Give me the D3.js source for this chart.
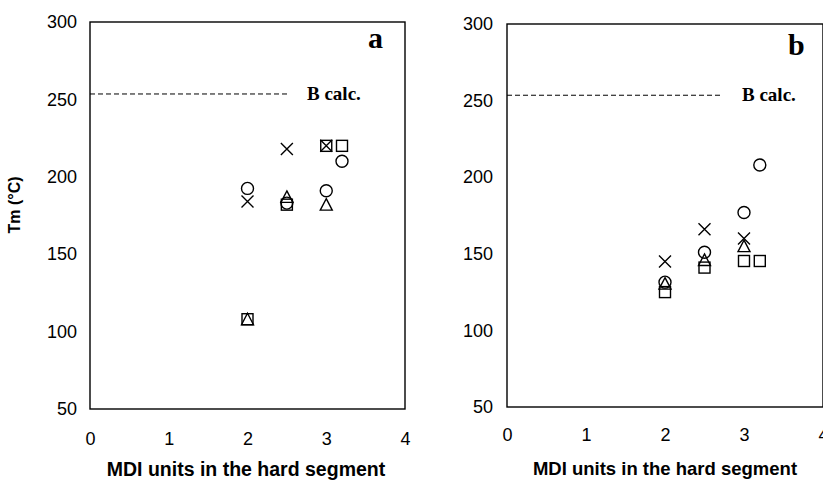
<!DOCTYPE html>
<html><head><meta charset="utf-8">
<script src="https://cdn.jsdelivr.net/npm/d3@7"></script>
<style>body{margin:0;background:#fff}svg{display:block}</style>
</head><body>
<svg id="chart" width="823" height="481"></svg>
<script>
// ---- data ----
const xTicks = [0, 1, 2, 3, 4];
const yTicks = [50, 100, 150, 200, 250, 300];
const bCalcValue = 253.5;
const xAxisTitle = "MDI units in the hard segment";
const yAxisTitle = "Tm (°C)";

// panel a
const aCircle   = [[2, 192.5], [2.5, 183], [3, 191], [3.2, 210]];
const aCross    = [[2, 184], [2.5, 218], [3, 220]];
const aTriangle = [[2, 108], [2.5, 187], [3, 182]];
const aSquare   = [[2, 108], [2.5, 182], [3, 220], [3.2, 220]];
// panel b
const bCircle   = [[2, 131.5], [2.5, 151], [3, 177], [3.2, 208]];
const bCross    = [[2, 145], [2.5, 166], [3, 160]];
const bTriangle = [[2, 130.5], [2.5, 146], [3, 155]];
const bSquare   = [[2, 125], [2.5, 141], [3, 145.3], [3.2, 145.3]];

const svg = d3.select("#chart");
const SANS = "Liberation Sans, Arial, sans-serif";
const SERIF = "Liberation Serif, Times New Roman, serif";

function panel(cfg) {
  const x = d3.scaleLinear().domain([0, 4]).range([cfg.left, cfg.right]);
  const y = d3.scaleLinear().domain([50, 300]).range([cfg.bottom, cfg.top]);
  const g = svg.append("g");

  // frame
  g.append("rect").attr("x", cfg.left).attr("y", cfg.top)
    .attr("width", cfg.right - cfg.left).attr("height", cfg.bottom - cfg.top)
    .attr("fill", "none").attr("stroke", "#000").attr("stroke-width", 1.4);

  // y axis
  const ya = d3.axisLeft(y).tickValues(yTicks).tickFormat(d3.format("d"))
    .tickSize(0).tickPadding(cfg.ypad);
  const yg = g.append("g").attr("transform", `translate(${cfg.left},0)`).call(ya);
  yg.select(".domain").remove();
  yg.selectAll("text").attr("font-family", SANS).attr("font-size", 18).attr("fill", "#000");

  // x axis
  const xa = d3.axisBottom(x).tickValues(xTicks).tickFormat(d3.format("d"))
    .tickSize(0).tickPadding(cfg.xpad);
  const xg = g.append("g").attr("transform", `translate(0,${cfg.bottom})`).call(xa);
  xg.select(".domain").remove();
  xg.selectAll("text").attr("font-family", SANS).attr("font-size", 18).attr("fill", "#000");

  // x title
  g.append("text").attr("x", cfg.titleX).attr("y", cfg.titleY)
    .attr("text-anchor", "middle").attr("font-family", SANS)
    .attr("font-weight", "bold").attr("font-size", cfg.titleSize).text(xAxisTitle);

  // B calc dashed line
  g.append("line").attr("x1", cfg.left).attr("x2", cfg.dashEnd)
    .attr("y1", y(bCalcValue)).attr("y2", y(bCalcValue))
    .attr("stroke", "#000").attr("stroke-width", 1).attr("stroke-dasharray", "5,3");
  g.append("text").attr("x", cfg.bcalcX).attr("y", y(bCalcValue) + 6)
    .attr("font-family", SERIF).attr("font-weight", "bold").attr("font-size", 19).text("B calc.");

  // panel letter
  g.append("text").attr("x", cfg.letterX).attr("y", cfg.letterY)
    .attr("font-family", SERIF).attr("font-weight", "bold").attr("font-size", 30).text(cfg.letter);

  const mk = g.append("g").attr("fill", "none").attr("stroke", "#000").attr("stroke-width", 1.4);
  mk.selectAll(".c").data(cfg.circle).join("circle")
    .attr("cx", d => x(d[0])).attr("cy", d => y(d[1])).attr("r", 6);
  mk.selectAll(".x").data(cfg.cross).join("path")
    .attr("d", d => {
      const cx = x(d[0]), cy = y(d[1]), s = 6;
      return `M${cx - s},${cy - s}L${cx + s},${cy + s}M${cx - s},${cy + s}L${cx + s},${cy - s}`;
    });
  mk.selectAll(".t").data(cfg.triangle).join("path")
    .attr("d", d => {
      const cx = x(d[0]), cy = y(d[1]);
      return `M${cx},${cy - 6}L${cx + 6},${cy + 5.5}L${cx - 6},${cy + 5.5}Z`;
    });
  mk.selectAll(".s").data(cfg.square).join("rect")
    .attr("x", d => x(d[0]) - 5.5).attr("y", d => y(d[1]) - 5.5)
    .attr("width", 11).attr("height", 11);
}

panel({
  left: 90, right: 405, top: 22, bottom: 409, ypad: 13, xpad: 23,
  titleX: 246, titleY: 476, titleSize: 19.5, dashEnd: 290, bcalcX: 307,
  letter: "a", letterX: 368, letterY: 48,
  circle: aCircle, cross: aCross, triangle: aTriangle, square: aSquare
});
panel({
  left: 507, right: 823, top: 24, bottom: 407, ypad: 14, xpad: 21,
  titleX: 665, titleY: 475, titleSize: 18.5, dashEnd: 723, bcalcX: 742,
  letter: "b", letterX: 788, letterY: 55,
  circle: bCircle, cross: bCross, triangle: bTriangle, square: bSquare
});

// y axis title (panel a only)
svg.append("text").attr("transform", "translate(20,205) rotate(-90)")
  .attr("text-anchor", "middle").attr("font-family", SANS)
  .attr("font-weight", "bold").attr("font-size", 16).text(yAxisTitle);
</script>
</body></html>
